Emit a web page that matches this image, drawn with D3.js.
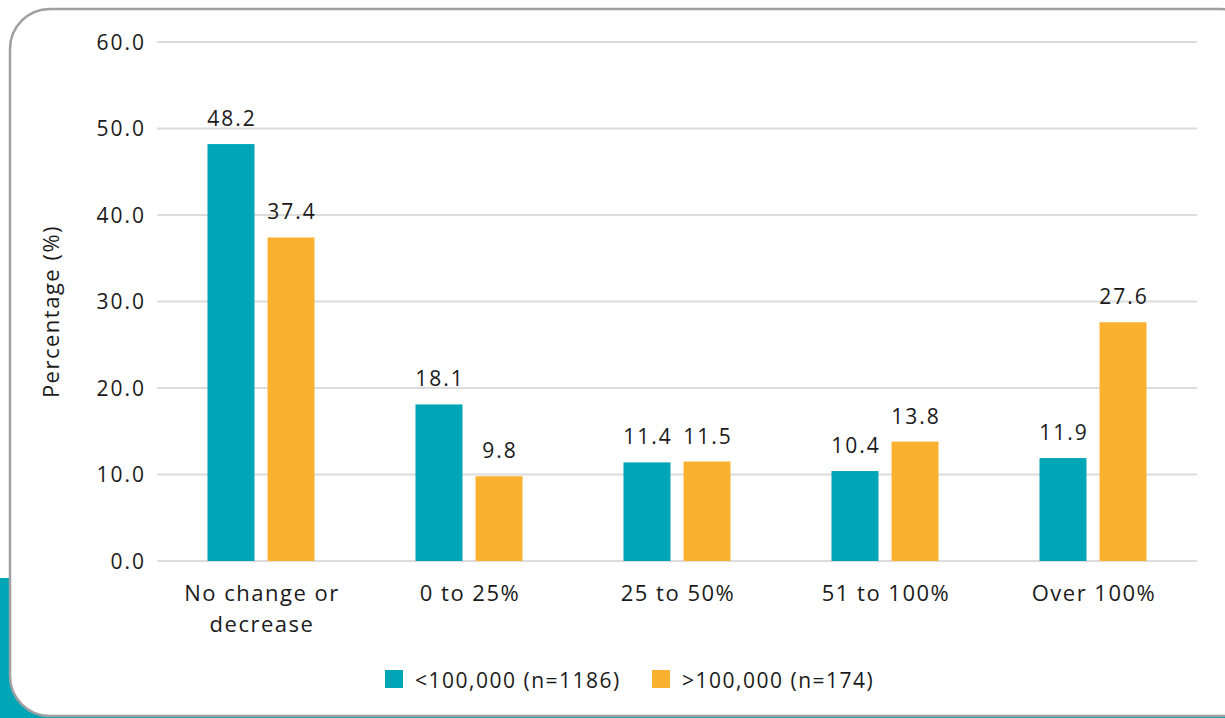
<!DOCTYPE html>
<html>
<head>
<meta charset="utf-8">
<script src="https://cdn.jsdelivr.net/npm/d3@7"></script>
<style>
  html, body { margin: 0; padding: 0; background: #fff; }
  svg { display: block; }
  text { font-family: "Open Sans", Lato, sans-serif; fill: #1a1a1a; letter-spacing: 1.5px; }
</style>
</head>
<body>
<svg id="chart" width="1225" height="718"></svg>
<script>
// Growth categories along the x axis
const categories = ["No change or\ndecrease", "0 to 25%", "25 to 50%", "51 to 100%", "Over 100%"];
// Series names shown in the legend
const seriesNames = ["<100,000 (n=1186)", ">100,000 (n=174)"];
// Percentages per category for each series
const smallValues = [48.2, 18.1, 11.4, 10.4, 11.9];
const largeValues = [37.4, 9.8, 11.5, 13.8, 27.6];
// Y axis ticks
const yTicks = [0, 10, 20, 30, 40, 50, 60];

const colors = ["#00A6B6", "#FBB130"];
const series = [smallValues, largeValues];

const svg = d3.select("#chart");
const W = 1225, H = 718;

// Frame: teal strip behind a rounded white panel
svg.append("rect").attr("x", 0).attr("y", 578).attr("width", W).attr("height", H - 578).attr("fill", colors[0]);
svg.append("rect")
  .attr("x", 10).attr("y", 9).attr("width", 1250).attr("height", 707)
  .attr("rx", 40).attr("ry", 40)
  .attr("fill", "#fff").attr("stroke", "#a0a0a4").attr("stroke-width", 2.5);

const margin = { left: 157, right: 1197, top: 42, bottom: 561 };

const x = d3.scaleBand().domain(categories).range([margin.left, margin.right]);
const y = d3.scaleLinear().domain([0, 60]).range([margin.bottom, margin.top]);
const barW = 47, gap = 13;
const pairW = barW * 2 + gap;
const xs = d3.scaleBand().domain([0, 1]).range([0, pairW]).paddingInner(gap / (barW + gap));

// Gridlines
svg.append("g").selectAll("line").data(yTicks).join("line")
  .attr("x1", margin.left).attr("x2", margin.right)
  .attr("y1", d => y(d)).attr("y2", d => y(d))
  .attr("stroke", "#dcdcdc").attr("stroke-width", 2);

// Y axis tick labels
const yAxis = d3.axisLeft(y).tickValues(yTicks).tickFormat(d3.format(".1f")).tickSize(0).tickPadding(0);
const gy = svg.append("g").attr("transform", `translate(${margin.left - 11},0)`).call(yAxis);
gy.select(".domain").remove();
gy.selectAll("text").style("font-size", "21px").style("font-family", "'Open Sans', sans-serif")
  .style("letter-spacing", "2px").attr("dy", "0.35em").attr("fill", "#1a1a1a");

// Y axis title
svg.append("text")
  .attr("transform", `translate(59,${(margin.top + margin.bottom) / 2 + 10}) rotate(-90)`)
  .attr("text-anchor", "middle").style("font-size", "22px")
  .text("Percentage (%)");

// Bars and value labels
series.forEach((vals, si) => {
  const g = svg.append("g");
  const offset = (x.bandwidth() - pairW) / 2;
  g.selectAll("rect").data(vals).join("rect")
    .attr("x", (d, i) => x(categories[i]) + offset + xs(si))
    .attr("width", xs.bandwidth())
    .attr("y", d => y(d))
    .attr("height", d => y(0) - y(d))
    .attr("fill", colors[si]);
  g.selectAll("text").data(vals).join("text")
    .attr("x", (d, i) => x(categories[i]) + offset + xs(si) + xs.bandwidth() / 2 + 1)
    .attr("y", d => y(d) - 18)
    .attr("text-anchor", "middle").style("font-size", "21px").style("letter-spacing", "2px")
    .text(d => d.toFixed(1));
});

// Category labels
const xl = svg.append("g");
categories.forEach(c => {
  const cx = x(c) + x.bandwidth() / 2 + 1;
  const t = xl.append("text")
    .attr("x", cx)
    .attr("y", 601)
    .attr("text-anchor", "middle").style("font-size", "22px");
  c.split("\n").forEach((line, i) => {
    t.append("tspan").attr("x", cx).attr("dy", i === 0 ? 0 : 31).text(line);
  });
});

// Legend
const legendX = [385, 652];
seriesNames.forEach((name, i) => {
  svg.append("rect").attr("x", legendX[i]).attr("y", 670).attr("width", 18).attr("height", 18).attr("fill", colors[i]);
  svg.append("text").attr("x", legendX[i] + 30).attr("y", 688).style("font-size", "21px").text(name);
});
</script>
</body>
</html>
